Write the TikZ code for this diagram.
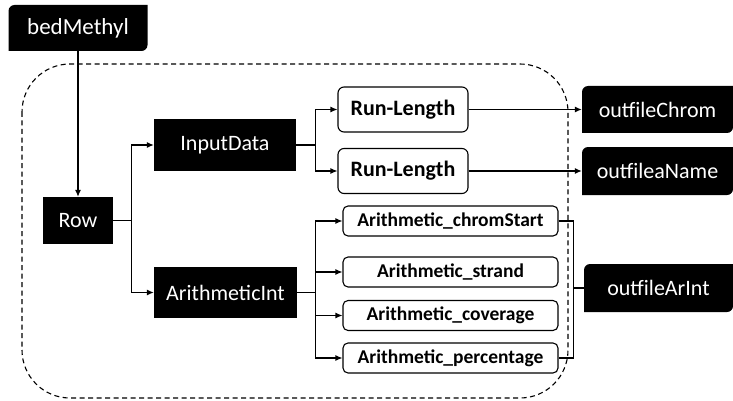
\documentclass[tikz,border=0pt]{standalone}
\usepackage{fontspec}
\setmainfont{Carlito}
\usetikzlibrary{arrows.meta}

\tikzset{
  darkbox/.style={fill=black, text=white, inner sep=0pt,
    font=\fontsize{22}{24}\selectfont},
  filebox/.style={text=white, inner sep=0pt,
    font=\fontsize{22}{24}\selectfont,
    path picture={\fill[black] (path picture bounding box.south west)
      -- ([yshift=-6pt]path picture bounding box.north west)
      arc[start angle=180, end angle=90, radius=6pt]
      -- (path picture bounding box.north east)
      -- ([yshift=6pt]path picture bounding box.south east)
      arc[start angle=0, end angle=-90, radius=6pt] -- cycle;}},
  runbox/.style={draw, line width=1.1pt, rounded corners=6pt, inner sep=0pt,
    minimum width=130pt, minimum height=45pt,
    font=\fontsize{22}{24}\selectfont\bfseries},
  calcbox/.style={draw, line width=1.1pt, rounded corners=5pt, inner sep=0pt,
    minimum width=215pt, minimum height=30pt,
    font=\fontsize{19.5}{21}\selectfont\bfseries},
  arr/.style={line width=1.1pt, -{Latex[length=7pt,width=6pt]}},
  wire/.style={line width=1.1pt}
}

\begin{document}
\begin{tikzpicture}[x=1pt, y=-1pt]
    \useasboundingbox (0,0) rectangle (733,401);

    % Process frame
    \draw[line width=1.1pt, dash pattern=on 5pt off 3.5pt, rounded corners=48pt]
        (22,64) rectangle (568,398);

    % Input file and row reader
    \node[filebox, minimum width=139pt, minimum height=46pt,
          font=\fontsize{23}{25}\selectfont] (bed) at (78,28) {bedMethyl};
    \node[darkbox, minimum width=70pt, minimum height=47pt] (row) at (78,220.5) {Row};

    % Two data streams
    \node[darkbox, minimum width=142pt, minimum height=52pt] (input) at (225,145) {InputData};
    \node[darkbox, minimum width=143pt, minimum height=51pt] (arith) at (225.5,292.5) {ArithmeticInt};

    % Run-length encoders
    \node[runbox] (rlA) at (403,109.5) {Run-Length};
    \node[runbox] (rlB) at (403,171) {Run-Length};

    % Arithmetic encoders
    \node[calcbox] (acA) at (450.5,221) {Arithmetic\_chromStart};
    \node[calcbox] (acB) at (450.5,272) {Arithmetic\_strand};
    \node[calcbox] (acC) at (450.5,315.5) {Arithmetic\_coverage};
    \node[calcbox] (acD) at (450.5,358) {Arithmetic\_percentage};

    % Output files
    \node[filebox, minimum width=151pt, minimum height=47pt] (outChrom) at (657.5,109.5) {outfileChrom};
    \node[filebox, minimum width=151pt, minimum height=48pt] (outName) at (657.5,171) {outfileaName};
    \node[filebox, minimum width=149pt, minimum height=48pt] (outArInt) at (658.5,288) {outfileArInt};

    % Connectors
    \draw[arr] (bed) -- (row);
    \draw[arr] (row.east) -- ++(18,0) |- (input.west);
    \draw[arr] (row.east) -- ++(18,0) |- (arith.west);
    \draw[arr] (input.east) -- ++(19,0) |- (rlA.west);
    \draw[arr] (input.east) -- ++(19,0) |- (rlB.west);
    \draw[arr] (rlA) -- (outChrom);
    \draw[arr] (rlB) -- (outName);
    \foreach \k in {acA,acB,acC,acD}
        \draw[arr] (arith.east) -- ++(18,0) |- (\k.west);

    % Bracket to arithmetic output
    \draw[wire] (acA.east) -- ++(15,0) coordinate (brace) |- (acD.east);
    \draw[wire] (outArInt.west) -- (outArInt.west -| brace);
\end{tikzpicture}
\end{document}
